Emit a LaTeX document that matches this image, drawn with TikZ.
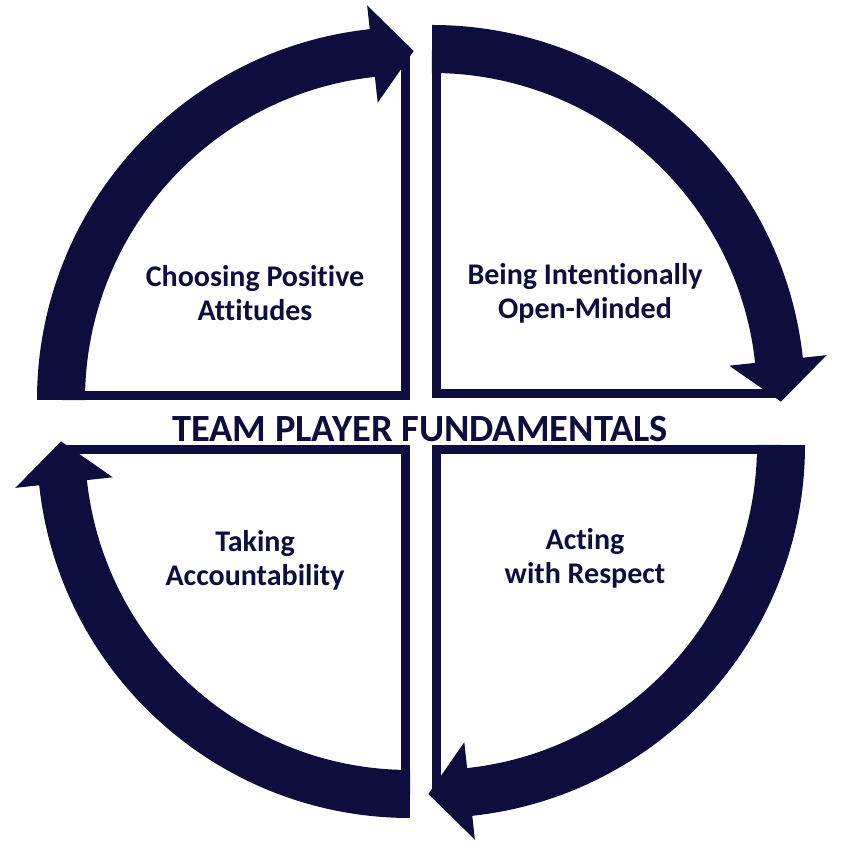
\documentclass[tikz,border=0pt]{standalone}
\usepackage{fontspec}
\setmainfont[RawFeature={-liga}]{Carlito}
\definecolor{navy}{HTML}{0D0E3E}
\tikzset{
  lbl/.style={font=\bfseries\fontsize{30}{34}\selectfont, text=navy, align=center},
  quad/.pic={
    \fill[white] (0,0) -- (-373,0) arc(180:90:373) -- cycle;
    \draw[navy, line width=9] (-349,4.5) -- (-4.5,4.5) -- (-4.5,349);
    \draw[navy, line width=48] (180:349) arc(180:95:349);
    \fill[navy] (96.2:397) -- (89.4:349) -- (96.2:299) -- cycle;
  }
}
\begin{document}
\begin{tikzpicture}[x=1pt,y=1pt]
\useasboundingbox (0,0) rectangle (840,858);
\pic at (410,458) {quad};
\pic[rotate=-90] at (432,460) {quad};
\pic[rotate=-180] at (432,413) {quad};
\pic[rotate=-270] at (410,413) {quad};
\node[lbl] (tl) at (255,565) {Choosing Positive\\Attitudes};
\node[lbl] (tr) at (585,565) {Being Intentionally\\Open-Minded};
\node[lbl] (bl) at (255,298) {Taking\\Accountability};
\node[lbl] (br) at (585,300) {Acting\\with Respect};
\node[font=\bfseries\fontsize{38.5}{44}\selectfont, text=navy] (title) at (420,429) {TEAM PLAYER FUNDAMENTALS};
\end{tikzpicture}
\end{document}
